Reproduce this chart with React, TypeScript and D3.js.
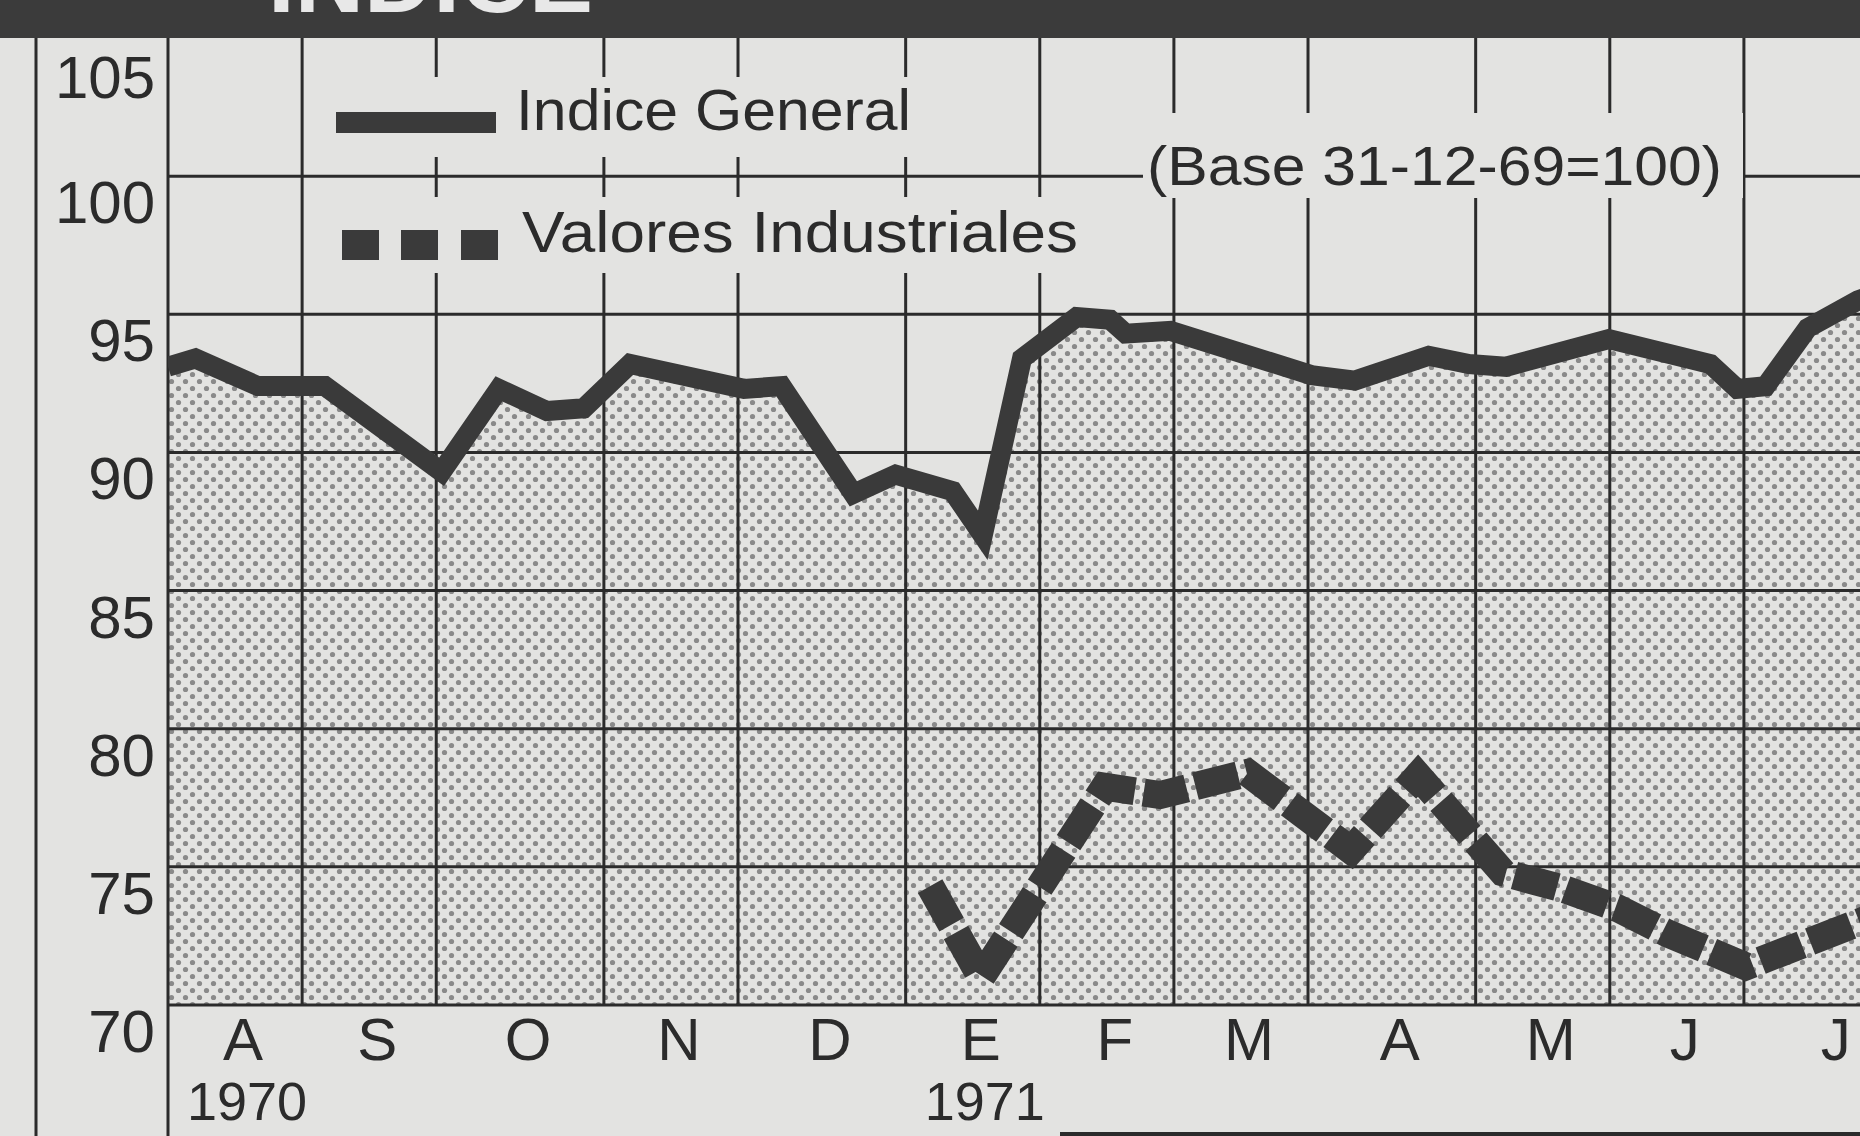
import * as d3 from "d3";

// month bands of the x axis (weekly scale, Thursday weeks)
const monthLabels = ["A", "S", "O", "N", "D", "E", "F", "M", "A", "M", "J", "J"];
const monthWeeks = [4, 4, 5, 4, 5, 4, 4, 4, 5, 4, 4, 5];
const yearLabels = ["1970", "1971"];
const yearMonthIndex = [0, 5];
const yTicks = [70, 75, 80, 85, 90, 95, 100, 105];

// Indice General (weeks since start of August 1970, index value)
const generalWeeks = [0, 0.82, 2.68, 4.68, 8.16, 9.87, 11.3, 12.4, 13.78, 17.18, 18.3, 20.44, 21.7, 23.4, 24.3, 25.47, 27.1, 28.1, 28.56, 29.9, 34.1, 35.4, 37.6, 38.8, 39.9, 42.97, 46.0, 46.8, 47.65, 48.9, 50.4, 51.5];
const generalValues = [93.1, 93.4, 92.4, 92.4, 89.3, 92.3, 91.5, 91.6, 93.2, 92.3, 92.4, 88.5, 89.2, 88.6, 87.0, 93.4, 94.9, 94.8, 94.3, 94.4, 92.8, 92.6, 93.5, 93.2, 93.1, 94.1, 93.2, 92.3, 92.4, 94.5, 95.5, 96.0];

// Valores Industriales
const industrialWeeks = [22.73, 24.25, 27.94, 29.59, 32.2, 35.28, 37.28, 39.81, 41.63, 43.24, 44.71, 47.06, 50.46, 51.5];
const industrialValues = [74.3, 71.0, 77.9, 77.6, 78.4, 75.6, 78.3, 74.8, 74.2, 73.5, 72.6, 71.4, 73.0, 73.5];

const FONT = "'Liberation Sans', Arial, Helvetica, sans-serif";
const PAPER = "#e3e3e1";
const INK = "#2b2b2b";
const LINE = "#3a3a3a";

type Pt = [number, number];

export default function App() {
  const W = 1860;
  const H = 1136;
  const left = 168;
  const top = 38;
  const bottom = 1005;
  const weekW = 33.53;

  const totalWeeks = d3.sum(monthWeeks);
  const x = d3.scaleLinear().domain([0, totalWeeks]).range([left, left + totalWeeks * weekW]);
  const y = d3.scaleLinear().domain([70, 105]).range([bottom, top]);

  const general: Pt[] = generalWeeks.map((w, i) => [w, generalValues[i]]);
  const industrial: Pt[] = industrialWeeks.map((w, i) => [w, industrialValues[i]]);

  const line = d3.line<Pt>().x(d => x(d[0])).y(d => y(d[1]));
  const area = d3.area<Pt>().x(d => x(d[0])).y0(y(70)).y1(d => y(d[1]));

  const bounds = [0, ...Array.from(d3.cumsum(monthWeeks))];
  const months = monthLabels.map((m, i) => ({ m, mid: (bounds[i] + bounds[i + 1]) / 2 }));

  return (
    <svg width={W} height={H} viewBox={`0 0 ${W} ${H}`}
      style={{ position: "absolute", left: 0, top: 0, display: "block" }}>
      <defs>
        <pattern id="dots" width="14" height="14" patternUnits="userSpaceOnUse">
          <rect width="14" height="14" fill={PAPER} />
          <circle cx="3.5" cy="3.5" r="2.6" fill="#8a8a8a" />
          <circle cx="10.5" cy="10.5" r="2.6" fill="#8a8a8a" />
        </pattern>
        <clipPath id="plot">
          <rect x={left} y={top} width={W - left} height={bottom - top} />
        </clipPath>
      </defs>

      <rect width={W} height={H} fill={PAPER} />

      {/* dark title band, only the bottom of the title shows */}
      <rect x={0} y={0} width={W} height={top} fill="#3b3b3b" />
      <text x={268} y={12} fill="#e8e8e8" fontFamily={FONT} fontWeight="bold" fontSize={95}
        textLength={325} lengthAdjust="spacingAndGlyphs">INDICE</text>

      {/* shaded area under the general index */}
      <g clipPath="url(#plot)">
        <path d={area(general) || ""} fill="url(#dots)" />
      </g>

      {/* grid */}
      <line x1={36} x2={36} y1={top} y2={H} stroke={INK} strokeWidth={3} />
      {yTicks.filter(t => t < 105).map(t => (
        <line key={t} x1={left} x2={W} y1={y(t)} y2={y(t)} stroke={INK} strokeWidth={3} />
      ))}
      {bounds.map((b, i) => (
        <line key={i} x1={x(b)} x2={x(b)} y1={top} y2={i === 0 ? H : bottom}
          stroke={INK} strokeWidth={3} />
      ))}

      {/* legend boxes hide the grid behind the text */}
      <rect x={322} y={77} width={598} height={80} fill={PAPER} />
      <rect x={322} y={197} width={768} height={76} fill={PAPER} />
      <rect x={1143} y={113} width={600} height={85} fill={PAPER} />

      <rect x={336} y={112} width={160} height={21} fill={LINE} />
      <text x={516} y={130} fill={INK} fontFamily={FONT} fontSize={58}
        textLength={395} lengthAdjust="spacingAndGlyphs">Indice General</text>
      {[342, 401, 461].map(sx => (
        <rect key={sx} x={sx} y={230} width={37} height={30} fill={LINE} />
      ))}
      <text x={522} y={252} fill={INK} fontFamily={FONT} fontSize={58}
        textLength={556} lengthAdjust="spacingAndGlyphs">Valores Industriales</text>
      <text x={1147} y={185} fill={INK} fontFamily={FONT} fontSize={55}
        textLength={575} lengthAdjust="spacingAndGlyphs">(Base 31-12-69=100)</text>

      {/* series */}
      <g clipPath="url(#plot)">
        <path d={line(general) || ""} fill="none" stroke={LINE} strokeWidth={20}
          strokeLinejoin="miter" strokeMiterlimit={3} />
        <path d={line(industrial) || ""} fill="none" stroke={LINE} strokeWidth={28}
          strokeDasharray="44 9" strokeLinejoin="miter" strokeMiterlimit={3} />
      </g>

      {/* y axis labels sit just under their grid lines */}
      {yTicks.map(t => (
        <text key={t} x={155} y={y(t) + (t === 105 ? 60 : 47)} textAnchor="end" fill={INK}
          fontFamily={FONT} fontSize={60}>{t}</text>
      ))}

      {/* month and year labels */}
      {months.map((d, i) => (
        <text key={i} x={x(d.mid) + 8} y={1060} textAnchor="middle" fill={INK}
          fontFamily={FONT} fontSize={60}>{d.m}</text>
      ))}
      {yearLabels.map((yr, i) => (
        <text key={yr} x={x(months[yearMonthIndex[i]].mid) + 12} y={1120} textAnchor="middle"
          fill={INK} fontFamily={FONT} fontSize={54}>{yr}</text>
      ))}

      <line x1={1060} x2={W} y1={1134} y2={1134} stroke={INK} strokeWidth={4} />
    </svg>
  );
}
